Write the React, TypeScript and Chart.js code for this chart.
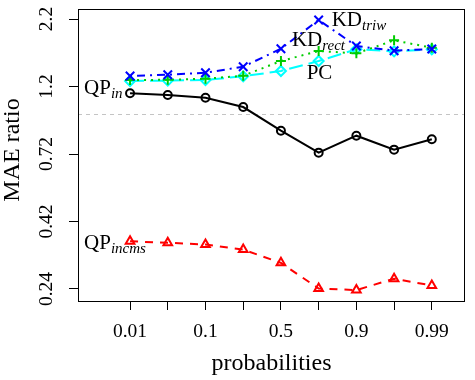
import React, { useEffect, useRef } from 'react';
import { Chart, registerables } from 'chart.js';

Chart.register(...registerables);

// ---- data ----
const xPositions = [1, 2, 3, 4, 5, 6, 7, 8, 9];
const xTickLabels = ['0.01', '', '0.1', '', '0.5', '', '0.9', '', '0.99'];
const yTickValues = [0.2401, 0.416, 0.721, 1.2495, 2.1654];
const yTickLabels = ['0.24', '0.42', '0.72', '1.2', '2.2'];
const refLineValue = 1;

const qpIn = [1.182, 1.166, 1.141, 1.057, 0.872, 0.729, 0.837, 0.747, 0.813];
const qpIncms = [0.354, 0.35, 0.345, 0.331, 0.297, 0.241, 0.238, 0.261, 0.247];
const kdTriw = [1.361, 1.375, 1.398, 1.468, 1.7, 2.148, 1.738, 1.673, 1.696];
const kdRect = [1.317, 1.32, 1.331, 1.364, 1.538, 1.668, 1.637, 1.82, 1.714];
const pcVals = [1.307, 1.311, 1.317, 1.358, 1.418, 1.538, 1.692, 1.664, 1.692];

const SERIF = "'Liberation Serif', 'DejaVu Serif', serif";

const seriesLabels = [
  { main: 'QP', sub: 'in', ds: 0, idx: 0, dx: -46, dy: -5 },
  { main: 'QP', sub: 'incms', ds: 1, idx: 0, dx: -46, dy: 2 },
  { main: 'KD', sub: 'triw', ds: 2, idx: 5, dx: 13, dy: 0 },
  { main: 'KD', sub: 'rect', ds: 3, idx: 4, dx: 11, dy: -21 },
  { main: 'PC', sub: '', ds: 4, idx: 5, dx: -12, dy: 12 },
];

const toPts = (arr: number[]) => xPositions.map((x, i) => ({ x, y: arr[i] }));

const customPlugin = {
  id: 'customDecor',
  beforeDatasetsDraw(chart: any) {
    const { ctx, chartArea, scales } = chart;
    const py = Math.round(scales.y.getPixelForValue(refLineValue)) + 0.5;
    ctx.save();
    ctx.strokeStyle = '#C4C4C4';
    ctx.lineWidth = 1;
    ctx.setLineDash([4, 4]);
    ctx.beginPath();
    ctx.moveTo(chartArea.left, py);
    ctx.lineTo(chartArea.right, py);
    ctx.stroke();
    ctx.restore();
  },
  afterDraw(chart: any) {
    const { ctx, chartArea, scales } = chart;
    const { left, right, top, bottom } = chartArea;
    ctx.save();
    // box
    ctx.strokeStyle = '#000';
    ctx.lineWidth = 1;
    ctx.setLineDash([]);
    ctx.strokeRect(left + 0.5, top + 0.5, right - left - 1, bottom - top);

    // y tick labels (rotated)
    ctx.fillStyle = '#000';
    ctx.font = `19.5px ${SERIF}`;
    ctx.textAlign = 'center';
    ctx.textBaseline = 'middle';
    yTickValues.forEach((v, i) => {
      const py = scales.y.getPixelForValue(v);
      ctx.save();
      ctx.translate(47, py);
      ctx.rotate(-Math.PI / 2);
      ctx.fillText(yTickLabels[i], 0, 0);
      ctx.restore();
    });

    // axis titles
    ctx.font = `24px ${SERIF}`;
    ctx.save();
    ctx.translate(13, 150);
    ctx.rotate(-Math.PI / 2);
    ctx.fillText('MAE ratio', 0, 0);
    ctx.restore();
    ctx.fillText('probabilities', (left + right) / 2, 364);

    // series labels
    ctx.textAlign = 'left';
    seriesLabels.forEach((l) => {
      const pt = chart.getDatasetMeta(l.ds).data[l.idx];
      const x0 = pt.x + l.dx;
      const y0 = pt.y + l.dy;
      ctx.font = `21px ${SERIF}`;
      ctx.fillText(l.main, x0, y0);
      const w = ctx.measureText(l.main).width;
      if (l.sub) {
        ctx.font = `italic 15px ${SERIF}`;
        ctx.fillText(l.sub, x0 + w, y0 + 6);
      }
    });
    ctx.restore();
  },
};

export default function App() {
  const ref = useRef<HTMLCanvasElement>(null);
  useEffect(() => {
    document.body.style.margin = '0';
    const canvas = ref.current!;
    const common = { borderWidth: 2, pointBorderWidth: 2, pointBackgroundColor: 'rgba(0,0,0,0)', tension: 0 };
    const chart = new Chart(canvas, {
      type: 'line',
      data: {
        datasets: [
          { ...common, label: 'QP_in', data: toPts(qpIn), borderColor: '#000000', pointBorderColor: '#000000', pointStyle: 'circle', pointRadius: 4 },
          { ...common, label: 'QP_incms', data: toPts(qpIncms), borderColor: '#FF0000', pointBorderColor: '#FF0000', pointStyle: 'triangle', pointRadius: 5, borderDash: [8, 7] },
          { ...common, label: 'KD_triw', data: toPts(kdTriw), borderColor: '#0000FF', pointBorderColor: '#0000FF', pointStyle: 'crossRot', pointRadius: 6, borderDash: [2, 5, 8, 5] },
          { ...common, label: 'KD_rect', data: toPts(kdRect), borderColor: '#00CD00', pointBorderColor: '#00CD00', pointStyle: 'cross', pointRadius: 5, borderDash: [2, 5] },
          { ...common, label: 'PC', data: toPts(pcVals), borderColor: '#00FFFF', pointBorderColor: '#00FFFF', pointStyle: 'rectRot', pointRadius: 5, borderDash: [14, 6] },
        ] as any,
      },
      options: {
        responsive: false,
        devicePixelRatio: 1,
        animation: false,
        events: [],
        layout: { padding: { top: 9, right: 10, left: 0, bottom: 0 } },
        plugins: { legend: { display: false }, tooltip: { enabled: false } },
        scales: {
          x: {
            type: 'linear',
            min: -0.38,
            max: 9.88,
            afterBuildTicks: (s: any) => {
              s.ticks = xPositions.map((v) => ({ value: v }));
            },
            afterFit: (s: any) => {
              s.height = 79;
            },
            ticks: {
              autoSkip: false,
              maxRotation: 0,
              minRotation: 0,
              padding: 10,
              color: '#000',
              font: { family: SERIF, size: 19.5 },
              callback: (_v: any, i: number) => xTickLabels[i],
            },
            grid: { display: true, drawOnChartArea: false, drawTicks: true, tickLength: 9, color: '#000', lineWidth: 1 },
            border: { display: false },
          },
          y: {
            type: 'logarithmic',
            min: 0.2177,
            max: 2.3495,
            afterBuildTicks: (s: any) => {
              s.ticks = yTickValues.map((v) => ({ value: v }));
            },
            afterFit: (s: any) => {
              s.width = 78;
            },
            ticks: { display: false },
            grid: { display: true, drawOnChartArea: false, drawTicks: true, tickLength: 9, color: '#000', lineWidth: 1 },
            border: { display: false },
          },
        },
      } as any,
      plugins: [customPlugin],
    });
    return () => chart.destroy();
  }, []);
  return (
    <div style={{ position: 'absolute', left: 0, top: 0, width: 475, height: 380 }}>
      <canvas ref={ref} width={475} height={380} style={{ display: 'block', width: 475, height: 380 }} />
    </div>
  );
}
